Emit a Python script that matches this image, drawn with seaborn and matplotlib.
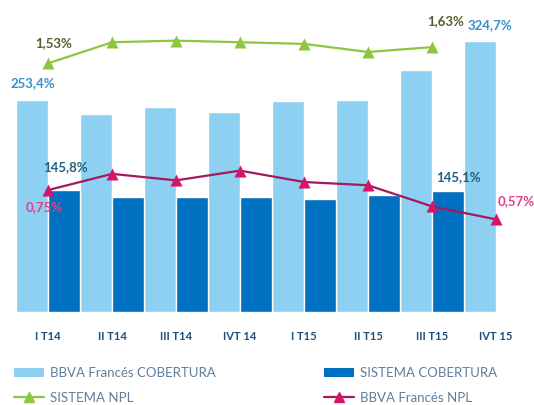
import numpy as np
import pandas as pd
import matplotlib
matplotlib.use("Agg")
import matplotlib.pyplot as plt
import seaborn as sns
from matplotlib.patches import Patch
from matplotlib.lines import Line2D

# Data
categories = ["I T14", "II T14", "III T14", "IVT 14", "I T15", "II T15", "III T15", "IVT 15"]
bbva_cobertura = [253.4, 236.8, 245.2, 239.2, 252.4, 253.6, 289.5, 324.7]
sistema_cobertura = [145.8, 138.0, 138.0, 138.0, 135.2, 140.0, 145.1, np.nan]
sistema_npl = [1.53, 1.66, 1.67, 1.66, 1.65, 1.60, 1.63, np.nan]
bbva_npl = [0.75, 0.85, 0.81, 0.87, 0.80, 0.78, 0.65, 0.57]

LIGHT = "#8dd0f2"
DARK = "#0070c0"
GREEN = "#8dc63f"
WINE = "#a3195b"
PINK = "#d4156a"

sns.set_theme(style="white")
plt.rcParams["font.family"] = ["Lato", "DejaVu Sans"]

bars = pd.DataFrame({
    "periodo": categories * 2,
    "valor": bbva_cobertura + sistema_cobertura,
    "serie": ["BBVA Francés COBERTURA"] * len(categories) + ["SISTEMA COBERTURA"] * len(categories),
})
lines = pd.DataFrame({
    "x": list(range(len(categories))) * 2,
    "valor": sistema_npl + bbva_npl,
    "serie": ["SISTEMA NPL"] * len(categories) + ["BBVA Francés NPL"] * len(categories),
})

fig = plt.figure(figsize=(5.34, 4.05), dpi=100)
ax = fig.add_axes([16 / 534, 93 / 405, 512 / 534, 292.5 / 405])

sns.barplot(data=bars, x="periodo", y="valor", hue="serie",
            palette={"BBVA Francés COBERTURA": LIGHT, "SISTEMA COBERTURA": DARK},
            width=0.99, gap=0, saturation=1, legend=False, ax=ax)
ax.set_xlim(-0.5, len(categories) - 0.5)
ax.set_ylim(0, 350)

ax2 = ax.twinx()
sns.lineplot(data=lines, x="x", y="valor", hue="serie",
             palette={"SISTEMA NPL": GREEN, "BBVA Francés NPL": WINE},
             linewidth=1.6, legend=False, ax=ax2)
for serie, mcol in [("SISTEMA NPL", GREEN), ("BBVA Francés NPL", PINK)]:
    sub = lines[lines["serie"] == serie]
    sns.scatterplot(data=sub, x="x", y="valor", marker="^", s=75, color=mcol,
                    edgecolor=mcol, linewidth=0, legend=False, ax=ax2, zorder=5)
ax2.set_ylim(0, 1.8)

for a in (ax, ax2):
    for sp in a.spines.values():
        sp.set_visible(False)
    a.set_ylabel("")
    a.set_xlabel("")
    a.set_yticks([])
    a.grid(False)

ax.tick_params(axis="x", length=0, pad=14)
ax.set_xticks(range(len(categories)))
ax.set_xticklabels(categories, fontsize=8, fontweight="bold", color="#1f4e79")

# value labels
lab = dict(fontsize=9.5, fontweight="bold", ha="center", va="center",
           textcoords="offset pixels")
ax.annotate("253,4%", xy=(-0.245, bbva_cobertura[0]), xytext=(0, 17), color="#3a8fc8", **lab)
ax.annotate("324,7%", xy=(7 - 0.245, bbva_cobertura[7]), xytext=(10, 16), color="#3a8fc8", **lab)
ax.annotate("145,8%", xy=(0.245, sistema_cobertura[0]), xytext=(2, 23), color="#1f5f7f", **lab)
ax.annotate("145,1%", xy=(6.245, sistema_cobertura[6]), xytext=(11, 14), color="#1f5f7f", **lab)
ax2.annotate("1,53%", xy=(0, sistema_npl[0]), xytext=(6, 20), color="#4f6228", **lab)
ax2.annotate("1,63%", xy=(6, sistema_npl[6]), xytext=(14, 26), color="#4f6228", **lab)
ax2.annotate("0,75%", xy=(0, bbva_npl[0]), xytext=(-4, -17), color="#e0408a", **lab)
ax2.annotate("0,57%", xy=(7, bbva_npl[7]), xytext=(20, 18), color="#e0408a", **lab)

# legends, one per column
leg_kw = dict(loc="upper left", frameon=False, fontsize=9.5, handlelength=2.3,
              handletextpad=0.45, labelspacing=0.95, labelcolor="#5f7f9c",
              borderaxespad=0, borderpad=0)
h1 = [Patch(facecolor=LIGHT, edgecolor="none"),
      Line2D([], [], color=GREEN, lw=1.6, marker="^", markersize=7)]
h2 = [Patch(facecolor=DARK, edgecolor="none"),
      Line2D([], [], color=WINE, lw=1.6, marker="^", markersize=7,
             markerfacecolor=PINK, markeredgecolor=PINK)]
fig.legend(h1, ["BBVA Francés COBERTURA", "SISTEMA NPL"],
           bbox_to_anchor=(14 / 534, 1 - 367 / 405), **leg_kw)
fig.legend(h2, ["SISTEMA COBERTURA", "BBVA Francés NPL"],
           bbox_to_anchor=(324 / 534, 1 - 367 / 405), **leg_kw)

fig.savefig("out.png", dpi=100)
